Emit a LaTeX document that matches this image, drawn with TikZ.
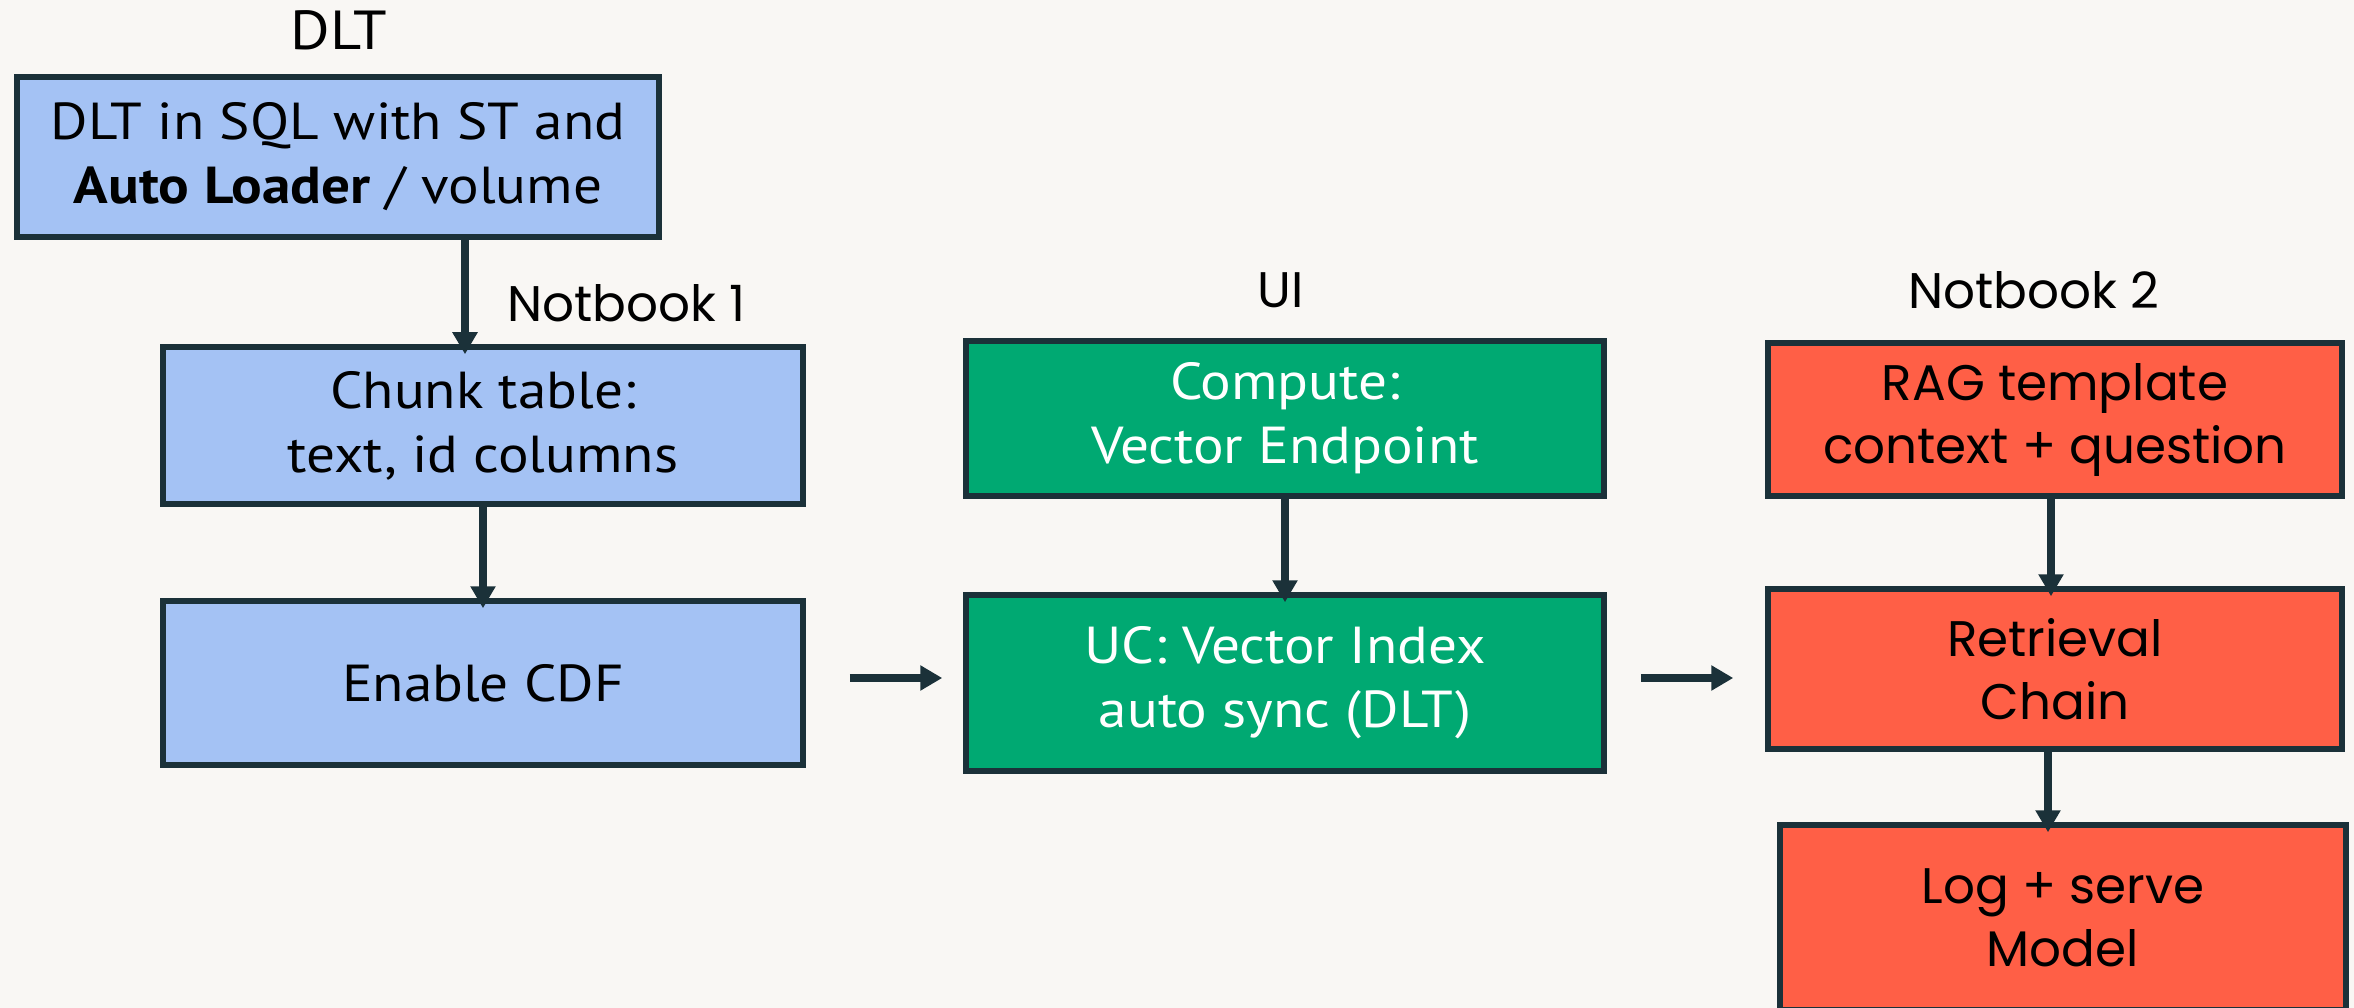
\documentclass[tikz,border=0pt]{standalone}
\usepackage{fontspec}
\setmainfont[FakeStretch=1.1]{PT Sans}
\newfontfamily\geofont{Poppins}
\usetikzlibrary{arrows.meta,calc}

\definecolor{bgoat}{HTML}{F9F7F4}
\definecolor{navy}{HTML}{1B3139}
\definecolor{skyblue}{HTML}{A4C2F4}
\definecolor{mint}{HTML}{00A972}
\definecolor{coral}{HTML}{FF5F46}

\tikzset{
  box/.style={draw=navy, line width=5.5pt, rectangle, align=center, inner sep=0pt,
    font=\fontsize{52}{64}\selectfont},
  bluebox/.style={box, fill=skyblue, text=black},
  greenbox/.style={box, fill=mint, text=white},
  redbox/.style={box, fill=coral, text=black, font=\geofont\fontsize{50}{63}\selectfont},
  caption/.style={inner sep=0pt, text=black},
  arr/.style={draw=navy, line width=7.5pt, -{Triangle[width=24pt,length=22pt]}},
}

\begin{document}
\begin{tikzpicture}[x=1pt, y=-1pt]
  \useasboundingbox (0,0) rectangle (2354,1008);
  \fill[bgoat] (0,0) rectangle (2354,1008);
  \clip (0,0) rectangle (2354,1008);

  % column 1: DLT / Notbook 1
  \node[caption, font=\fontsize{55}{60}\selectfont] (lbldlt) at (339,30) {DLT};
  \node[bluebox, minimum width=642pt, minimum height=160pt] (src) at (338,157)
    {DLT in SQL with ST and\\\textbf{Auto Loader} / volume};
  \node[bluebox, minimum width=640pt, minimum height=157pt] (chunk) at (483,425.5)
    {Chunk table:\\text, id columns};
  \node[caption, anchor=west, font=\geofont\fontsize{50}{56}\selectfont] (lblnb1) at (507,303) {Notbook 1};
  \node[bluebox, minimum width=640pt, minimum height=164pt] (cdf) at (483,683) {Enable CDF};

  % column 2: UI
  \node[caption, font=\geofont\fontsize{50}{56}\selectfont] (lblui) at (1281,290) {UI};
  \node[greenbox, minimum width=638pt, minimum height=155pt] (compute) at (1285,418.5)
    {Compute:\\Vector Endpoint};
  \node[greenbox, minimum width=638pt, minimum height=176pt] (uc) at (1285,683)
    {UC: Vector Index\\auto sync (DLT)};

  % column 3: Notbook 2
  \node[caption, font=\geofont\fontsize{50}{56}\selectfont] (lblnb2) at (2034,290) {Notbook 2};
  \node[redbox, minimum width=574pt, minimum height=153pt] (rag) at (2055,419.5)
    {RAG template\\context + question};
  \node[redbox, minimum width=574pt, minimum height=160pt] (ret) at (2055,669)
    {Retrieval\\Chain};
  \node[redbox, minimum width=566pt, minimum height=185pt] (logm) at (2063,917.5)
    {Log + serve\\Model};

  % vertical connectors, tips reaching into the box below
  \coordinate (inchunk) at ([xshift=-18pt,yshift=-10pt]chunk.north);
  \draw[arr] (src.south -| inchunk) -- (inchunk);
  \draw[arr] (chunk.south) -- ([yshift=-10pt]cdf.north);
  \draw[arr] (compute.south) -- ([yshift=-10pt]uc.north);
  \coordinate (inret) at ([xshift=-4pt,yshift=-10pt]ret.north);
  \draw[arr] (rag.south -| inret) -- (inret);
  \coordinate (inlog) at ([xshift=-15pt,yshift=-10pt]logm.north);
  \draw[arr] (ret.south -| inlog) -- (inlog);

  % horizontal connectors between columns
  \draw[arr] ([xshift=44pt,yshift=5pt]cdf.east) -- ([xshift=-21pt,yshift=5pt]uc.west);
  \draw[arr] ([xshift=34pt,yshift=5pt]uc.east) -- ([xshift=-32pt,yshift=5pt]ret.west |- uc.east);
\end{tikzpicture}
\end{document}
